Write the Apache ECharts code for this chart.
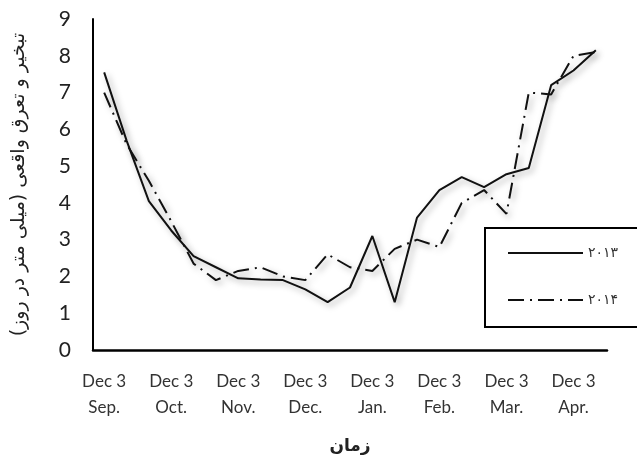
<!DOCTYPE html>
<html>
<head>
<meta charset="utf-8">
<script src="https://cdn.jsdelivr.net/npm/echarts@6/dist/echarts.min.js"></script>
<style>
  html, body { margin: 0; padding: 0; background: #fff; }
  #chart { width: 637px; height: 464px; }
</style>
</head>
<body>
<div id="chart"></div>
<script>
// ten-day periods, three per month, Sep. to early Apr.
const periods = [
  'Sep. 1', 'Sep. 2', 'Sep. 3',
  'Oct. 1', 'Oct. 2', 'Oct. 3',
  'Nov. 1', 'Nov. 2', 'Nov. 3',
  'Dec. 1', 'Dec. 2', 'Dec. 3',
  'Jan. 1', 'Jan. 2', 'Jan. 3',
  'Feb. 1', 'Feb. 2', 'Feb. 3',
  'Mar. 1', 'Mar. 2', 'Mar. 3',
  'Apr. 1', 'Apr. 2'
];
const tickPrefix = 'Dec 3';

const et2013 = [7.55, 5.7, 4.05, 3.25, 2.55, 2.25, 1.95, 1.92, 1.9, 1.65, 1.3, 1.7,
                3.1, 1.3, 3.6, 4.35, 4.7, 4.43, 4.78, 4.95, 7.2, 7.6, 8.15];
const et2014 = [7.0, 5.6, 4.6, 3.5, 2.35, 1.9, 2.15, 2.25, 2.0, 1.9, 2.6, 2.25,
                2.15, 2.75, 3.0, 2.8, 4.0, 4.35, 3.7, 7.0, 6.95, 8.0, 8.1];

const yTitle = 'تبخیر و تعرق واقعی (میلی متر در روز)';
const xTitle = 'زمان';
const names = ['۲۰۱۳', '۲۰۱۴'];

const chart = echarts.init(document.getElementById('chart'));

const shadow = {
  shadowColor: 'rgba(0,0,0,0.35)',
  shadowBlur: 6,
  shadowOffsetX: 3,
  shadowOffsetY: 3
};

chart.setOption({
  backgroundColor: '#fff',
  animation: false,
  grid: { left: 93, right: 30, top: 19, bottom: 114 },
  xAxis: {
    type: 'category',
    data: periods,
    boundaryGap: true,
    name: xTitle,
    nameLocation: 'middle',
    nameGap: 88,
    nameTextStyle: { fontFamily: 'DejaVu Sans', fontSize: 17, fontWeight: 'bold', color: '#222' },
    axisLine: { lineStyle: { color: '#000', width: 2.5 } },
    axisTick: { show: false },
    axisLabel: {
      interval: 2,
      margin: 19,
      fontFamily: 'Lato',
      fontSize: 17,
      lineHeight: 26,
      color: '#333',
      formatter: v => tickPrefix + '\n' + v.split(' ')[0]
    },
    splitLine: { show: false }
  },
  yAxis: {
    type: 'value',
    min: 0,
    max: 9,
    interval: 1,
    name: yTitle,
    nameLocation: 'middle',
    nameRotate: 90,
    nameGap: 64,
    nameTextStyle: { fontFamily: 'DejaVu Sans', fontSize: 19, color: '#222' },
    axisLine: { show: true, lineStyle: { color: '#000', width: 2 } },
    axisTick: { show: false },
    axisLabel: { margin: 22, fontFamily: 'Lato', fontSize: 21, color: '#222' },
    splitLine: { show: false }
  },
  legend: {
    orient: 'vertical',
    left: 485,
    top: 228,
    padding: [18, 24, 20, 22],
    itemGap: 33,
    itemWidth: 75,
    itemHeight: 14,
    itemStyle: { opacity: 0 },
    borderColor: '#000',
    borderWidth: 2,
    textStyle: { fontFamily: 'DejaVu Sans', fontSize: 14, color: '#333' },
    data: names
  },
  series: [
    {
      name: names[0],
      type: 'line',
      data: et2013,
      symbol: 'none',
      lineStyle: Object.assign({ color: '#111', width: 2, type: 'solid' }, shadow),
      itemStyle: { color: '#111' }
    },
    {
      name: names[1],
      type: 'line',
      data: et2014,
      symbol: 'none',
      lineStyle: Object.assign({ color: '#111', width: 2, type: [16, 6, 2, 6] }, shadow),
      itemStyle: { color: '#111' }
    }
  ]
});
</script>
</body>
</html>
